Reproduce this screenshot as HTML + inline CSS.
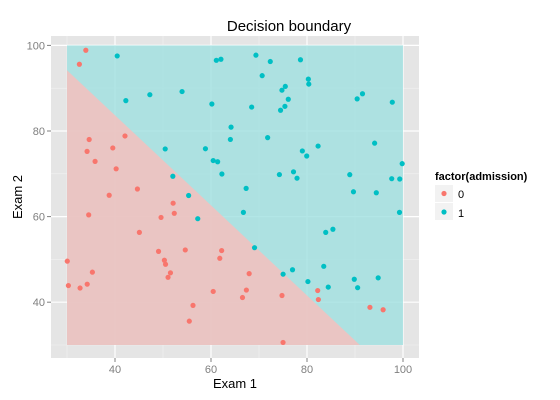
<!DOCTYPE html>
<html><head><meta charset="utf-8"><style>body{margin:0;background:#fff}svg{display:block;font-family:"Liberation Sans",sans-serif}</style></head>
<body>
<svg id="c" width="560" height="400"></svg>
<script>
const exam1=[34.62,30.29,35.85,60.18,79.03,45.08,61.11,75.02,76.10,84.43,95.86,75.01,82.31,69.36,39.54,53.97,69.07,67.95,70.66,76.98,67.37,89.68,50.53,34.21,77.92,62.27,80.19,93.11,61.83,38.79,61.38,85.40,52.11,52.05,40.24,54.64,33.92,64.18,74.79,34.18,83.90,51.55,94.44,82.37,51.05,62.22,77.19,97.77,62.07,91.56,79.94,99.27,90.55,34.52,50.29,49.59,97.65,32.58,74.25,71.80,75.40,35.29,56.25,30.06,44.67,66.56,40.46,49.07,80.28,66.75,32.72,64.04,72.35,60.46,58.84,99.83,47.26,50.46,60.46,82.23,88.91,94.83,67.32,57.24,80.37,68.47,42.08,75.48,78.64,52.35,94.09,90.45,55.48,74.49,89.85,83.49,42.26,99.32,55.34,74.78];
const exam2=[78.02,43.89,72.90,86.31,75.34,56.32,96.51,46.55,87.42,43.53,38.23,30.60,76.48,97.72,76.04,89.21,52.74,46.68,92.93,47.58,42.84,65.80,48.86,44.21,68.97,69.95,44.82,38.80,50.26,64.99,72.81,57.05,63.13,69.43,71.17,52.21,98.87,80.91,41.57,75.24,56.31,46.86,65.57,40.62,45.82,52.06,70.46,86.73,96.77,88.70,74.16,60.99,43.39,60.40,49.80,59.81,68.86,95.60,69.82,78.45,85.76,47.02,39.26,49.59,66.45,41.09,97.54,51.88,92.12,60.99,43.31,78.03,96.23,73.09,75.86,72.37,88.48,75.81,42.51,42.72,69.80,45.69,66.59,59.51,90.96,85.59,78.84,90.42,96.65,60.77,77.16,87.51,35.57,84.85,45.36,48.38,87.10,68.78,64.93,89.53];
const admitted=[0,0,0,1,1,0,1,1,1,1,0,0,1,1,0,1,1,0,1,1,0,1,0,0,1,1,1,0,0,0,1,1,0,1,0,0,0,1,0,0,1,0,1,0,0,0,1,1,1,1,1,1,1,0,0,0,1,0,1,1,1,0,0,0,0,0,1,0,1,1,0,1,1,1,1,1,1,1,0,0,1,1,1,1,1,1,0,1,1,0,1,1,0,1,1,1,1,1,1,1];
const xTicks=[40,60,80,100], yTicks=[40,60,80,100];
const boundaryX=[30,91]; const boundaryY=[94.2,30];
const NS="http://www.w3.org/2000/svg", svg=document.getElementById('c');
const X=v=>67+(v-30)*4.8, Y=v=>345-(v-30)*4.28;
function mk(t,a,p){const e=document.createElementNS(NS,t);for(const k in a)e.setAttribute(k,a[k]);(p||svg).appendChild(e);return e;}
const panel=mk('rect',{x:51,y:36,width:368,height:322,fill:'#e5e5e5'});


for(const v of [30,50,70,90]){
 mk('line',{x1:X(v),x2:X(v),y1:36,y2:358,stroke:'#f2f2f2','stroke-width':0.6});
 mk('line',{x1:51,x2:419,y1:Y(v),y2:Y(v),stroke:'#f2f2f2','stroke-width':0.6});}
for(const v of xTicks) mk('line',{x1:X(v),x2:X(v),y1:36,y2:358,stroke:'#fff','stroke-width':1.2});
for(const v of yTicks) mk('line',{x1:51,x2:419,y1:Y(v),y2:Y(v),stroke:'#fff','stroke-width':1.2});
const teal=mk('rect',{x:X(30),y:Y(100),width:X(100)-X(30),height:Y(30)-Y(100),fill:'#9fe0e0',opacity:0.8});


const pink=mk('polygon',{points:`${X(30)},${Y(boundaryY[0])} ${X(boundaryX[1])},${Y(boundaryY[1])} ${X(30)},${Y(30)}`,fill:'#f4c0bd',opacity:0.85});


for(let i=0;i<exam1.length;i++){
 const c=mk('circle',{cx:X(exam1[i]),cy:Y(exam2[i]),r:2.6,fill:admitted[i]?'#00BFC4':'#F8766D'});
 
 }
for(const v of xTicks){mk('line',{x1:X(v),x2:X(v),y1:358,y2:362,stroke:'#7f7f7f'});
 const t=mk('text',{x:X(v),y:373,'text-anchor':'middle','font-size':11,fill:'#7f7f7f'});t.textContent=v;
 
 }
for(const v of yTicks){mk('line',{x1:47,x2:51,y1:Y(v),y2:Y(v),stroke:'#7f7f7f'});
 const t=mk('text',{x:45,y:Y(v)+4,'text-anchor':'end','font-size':11,fill:'#7f7f7f'});t.textContent=v;
 
 }
</script>
<svg width="560" height="400" style="position:absolute;left:0;top:0">
<text x="289" y="31" text-anchor="middle" font-size="15">Decision boundary</text>
<text x="235" y="388" text-anchor="middle" font-size="13">Exam 1</text>
<text x="22" y="197" text-anchor="middle" font-size="13" transform="rotate(-90 22 197)">Exam 2</text>
<text x="435" y="180" font-size="11" font-weight="bold">factor(admission)</text>
<g><rect x="435" y="185" width="18" height="17" fill="#f2f2f2"/><circle cx="444" cy="193.5" r="2.6" fill="#F8766D"/><text x="458" y="198" font-size="11">0</text></g>
<g><rect x="435" y="203" width="18" height="17" fill="#f2f2f2"/><circle cx="444" cy="212" r="2.6" fill="#00BFC4"/><text x="458" y="217" font-size="11">1</text></g>
</svg>
</body></html>
